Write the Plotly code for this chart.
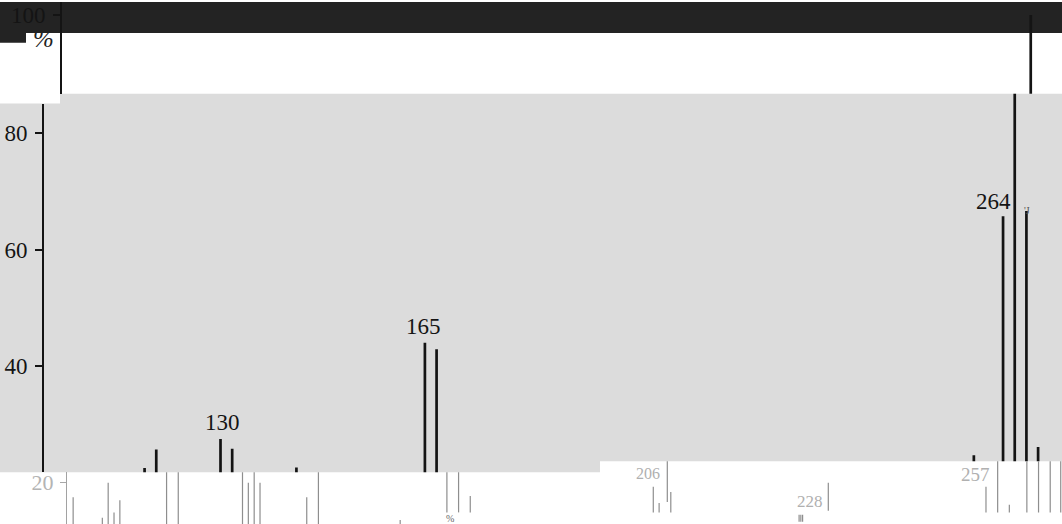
import plotly.graph_objects as go

W, H = 1062, 524

# Stick spectrum: m/z and relative intensity (%)
peak_mz = [117, 119, 130, 132, 143, 165, 167, 259, 264, 266, 268, 270]
peak_pct = [22.5, 25.7, 27.5, 25.8, 22.6, 44.0, 42.9, 24.7, 65.7, 100.0, 66.6, 26.1]
labelled_mz = [130, 165, 264]

# Lower, faded strip of the printed spectrum: m/z, top and foot of each stick (%)
faint_mz = [101, 106, 107, 108, 109, 117, 119, 130, 131, 132, 133, 141, 143, 157,
            165, 167, 169,
            203.6, 204.6, 206, 206.6, 223.0, 223.3, 223.6, 228,
            255, 257, 259, 262, 264, 266, 267.8]
faint_top = [17.5, 14.0, 20.0, 14.9, 17.0, 22.5, 25.7, 27.5, 20.0, 25.8, 20.0, 17.5, 22.6, 13.6,
             44.0, 42.9, 17.7,
             19.3, 16.5, 30.0, 18.4, 14.5, 14.5, 14.5, 20.0,
             19.3, 30.0, 16.2, 30.0, 65.7, 100.0, 66.6]
faint_low = [0, 0, 0, 0, 0, 0, 0, 0, 0, 0, 0, 0, 0, 0,
             14.9, 14.9, 14.9,
             14.9, 14.9, 16.7, 14.9, 13.3, 13.3, 13.3, 15.2,
             14.9, 14.9, 14.9, 14.9, 14.9, 14.9, 14.9]
faint_labelled = [206, 228, 257]

main_ticks = [40, 60, 80]
top_ticks = [100]
faint_ticks = [20]

MZ_PX = 5.84    # pixels per m/z unit
PCT_PX = 5.85   # pixels per percent

# panel geometry in pixels: x domain, y domain (top, bottom), x anchor (px, m/z), y anchor (px, %)
panels = [
    dict(key="top", xd=(62, 1062), yd=(0, 92), xa=(236.5, 130), ya=(13, 100)),
    dict(key="main_l", xd=(44, 600), yd=(102, 472), xa=(220.5, 130), ya=(131.5, 80)),
    dict(key="main_r", xd=(600, 1062), yd=(92, 461), xa=(220.5, 130), ya=(131.5, 80)),
    dict(key="low_l", xd=(67, 600), yd=(472, 524), xa=(242.5, 130), ya=(131.5, 80)),
    dict(key="low_ra", xd=(600, 740), yd=(461, 524), xa=(667.3, 206), ya=(131.5, 80)),
    dict(key="low_rb", xd=(740, 1062), yd=(461, 524), xa=(828.3, 228), ya=(131.5, 80)),
]

SERIF = "Liberation Serif, Times New Roman, serif"
INK = "#141414"
FAINT = "#8e8e8e"


def sticks(xs, tops, lows):
    px, py = [], []
    for x, t, b in zip(xs, tops, lows):
        px += [x, x, None]
        py += [b, t, None]
    return px, py


fig = go.Figure()
layout = dict(
    width=W, height=H, autosize=False,
    margin=dict(l=0, r=0, t=0, b=0),
    paper_bgcolor="white", plot_bgcolor="rgba(0,0,0,0)",
    showlegend=False, hovermode=False,
)

axis_of = {}
for i, p in enumerate(panels, start=1):
    sfx = "" if i == 1 else str(i)
    (x0, x1), (y0, y1) = p["xd"], p["yd"]
    (pxa, mza), (pya, pcta) = p["xa"], p["ya"]
    xr = [mza + (x0 - pxa) / MZ_PX, mza + (x1 - pxa) / MZ_PX]
    yr = [pcta - (y1 - pya) / PCT_PX, pcta + (pya - y0) / PCT_PX]
    layout["xaxis" + sfx] = dict(domain=[x0 / W, x1 / W], range=xr, visible=False,
                                 anchor="y" + sfx, fixedrange=True)
    layout["yaxis" + sfx] = dict(domain=[1 - y1 / H, 1 - y0 / H], range=yr, visible=False,
                                 anchor="x" + sfx, fixedrange=True, showgrid=False,
                                 zeroline=False)
    axis_of[p["key"]] = ("x" + sfx, "y" + sfx, xr)

    if p["key"].startswith("low"):
        sx, sy = sticks(faint_mz, faint_top, faint_low)
        fig.add_trace(go.Scatter(x=sx, y=sy, mode="lines", xaxis="x" + sfx, yaxis="y" + sfx,
                                 line=dict(color=FAINT, width=1.2), hoverinfo="skip"))
    else:
        sx, sy = sticks(peak_mz, peak_pct, [0] * len(peak_mz))
        fig.add_trace(go.Scatter(x=sx, y=sy, mode="lines", xaxis="x" + sfx, yaxis="y" + sfx,
                                 line=dict(color=INK, width=2.7), hoverinfo="skip"))

# visible intensity axes
solid_axis = dict(visible=True, showline=True, linecolor=INK, linewidth=2,
                  ticks="outside", ticklen=7, tickwidth=1.5, tickcolor=INK,
                  tickfont=dict(family=SERIF, size=23, color=INK), ticklabelstandoff=3)
layout["yaxis"].update(solid_axis, tickvals=top_ticks)
layout["yaxis2"].update(solid_axis, tickvals=main_ticks)
layout["yaxis4"].update(dict(visible=True, showline=True, linecolor="#a2a2a2", linewidth=1,
                             ticks="outside", ticklen=6, tickwidth=1, tickcolor="#a8a8a8",
                             tickfont=dict(family=SERIF, size=22, color="#b4b4b4"),
                             ticklabelstandoff=2, tickvals=faint_ticks))

# background bands of the printed sheet
def pp(x, y):
    return f"{x / W:.5f},{1 - y / H:.5f}"

shapes = [
    dict(type="path", xref="paper", yref="paper", layer="below", line=dict(width=0),
         fillcolor="#232323",
         path=f"M{pp(0,0)} L{pp(W,0)} L{pp(W,31)} L{pp(26,31)} L{pp(26,41)} L{pp(0,41)} Z"),
    dict(type="path", xref="paper", yref="paper", layer="below", line=dict(width=0),
         fillcolor="#dcdcdc",
         path=(f"M{pp(0,102)} L{pp(60,102)} L{pp(60,92)} L{pp(W,92)} L{pp(W,461)} "
               f"L{pp(600,461)} L{pp(600,472)} L{pp(0,472)} Z")),
]
layout["shapes"] = shapes


def panel_for(mz, keys):
    for k in keys:
        xa, ya, xr = axis_of[k]
        if xr[0] <= mz <= xr[1]:
            return xa, ya
    return axis_of[keys[0]][:2]


annotations = []
label_shift = {130: (2, 2), 165: (-1, 1.5), 264: (-10, 0.5)}
for mz in labelled_mz:
    v = peak_pct[peak_mz.index(mz)]
    xa, ya = panel_for(mz, ["main_l", "main_r"])
    dx, dy = label_shift[mz]
    annotations.append(dict(x=mz, y=v, xref=xa, yref=ya, text=str(mz), showarrow=False,
                            xanchor="center", yanchor="bottom", xshift=dx, yshift=dy,
                            font=dict(family=SERIF, size=23, color=INK)))

# small broken mark above the 268 stick
annotations.append(dict(x=268, y=66.6, xref=axis_of["main_r"][0], yref=axis_of["main_r"][1],
                        text="'J", showarrow=False, xanchor="center", yanchor="middle",
                        xshift=1, yshift=1, font=dict(family=SERIF, size=10, color="#555555")))

faint_pos = {206: (21.6, -5, 16), 228: (16.8, -3, 17), 257: (21.4, -6, 19)}
for mz in faint_labelled:
    yv, dx, fs = faint_pos[mz]
    xa, ya = panel_for(mz, ["low_ra", "low_rb"])
    annotations.append(dict(x=mz, y=yv, xref=xa, yref=ya, text=str(mz), showarrow=False,
                            xanchor="right", yanchor="middle", xshift=dx,
                            font=dict(family=SERIF, size=fs, color="#b0b0b0")))

# unit of the intensity axis
annotations.append(dict(x=43 / W, y=1 - 37 / H, xref="paper", yref="paper", text="%",
                        showarrow=False, xanchor="center", yanchor="middle",
                        font=dict(family=SERIF, size=25, color="#222222", style="italic")))
annotations.append(dict(x=450 / W, y=1 - 518 / H, xref="paper", yref="paper", text="%",
                        showarrow=False, xanchor="center", yanchor="middle",
                        font=dict(family=SERIF, size=10, color="#666666")))
layout["annotations"] = annotations

fig.update_layout(**layout)
fig.write_html("out.html")
